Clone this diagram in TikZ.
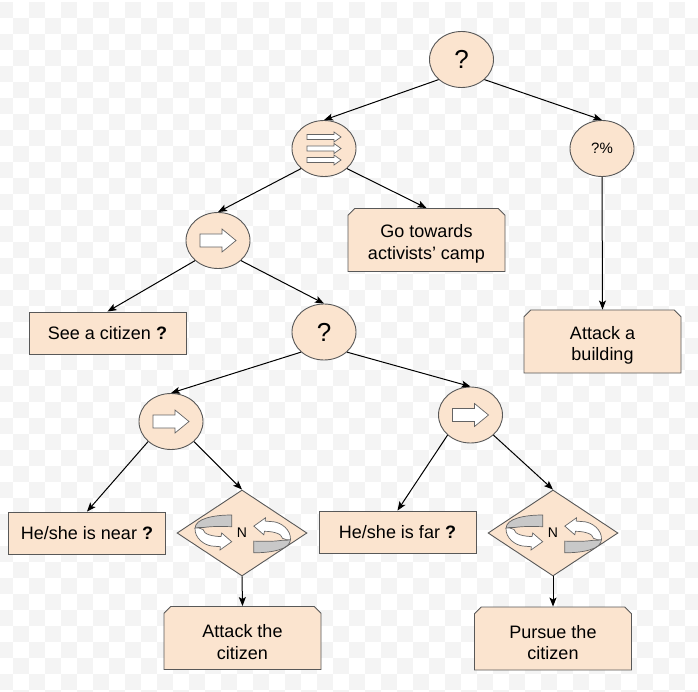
\documentclass[tikz,border=0pt]{standalone}
\usepackage{fontspec}
\setmainfont{Liberation Sans}
\usetikzlibrary{shapes.geometric,shapes.misc,arrows.meta,calc}
\definecolor{peach}{RGB}{251,228,207}
\definecolor{linegray}{RGB}{88,88,88}
\definecolor{icongray}{RGB}{100,100,100}
\definecolor{ringback}{RGB}{200,200,200}
\definecolor{checker}{RGB}{244,244,244}
\begin{document}
\begin{tikzpicture}[x=1pt,y=1pt]
  \tikzset{
    ctrl/.style={
      ellipse,
      draw=linegray,
      fill=peach,
      line width=0.9pt,
      minimum width=64pt,
      minimum height=56pt,
      inner sep=0pt
    },
    condbox/.style={
      rectangle,
      draw=linegray,
      fill=peach,
      line width=0.9pt,
      minimum width=157pt,
      minimum height=42pt,
      font=\fontsize{18}{21.6}\selectfont
    },
    actbox/.style={
      chamfered rectangle,
      chamfered rectangle corners={north west,north east},
      chamfered rectangle sep=6pt,
      draw=linegray,
      fill=peach,
      line width=0.9pt,
      minimum width=157pt,
      minimum height=63pt
    },
    acttext/.style={
      align=center,
      yshift=-4pt,
      font=\fontsize{18}{21.6}\selectfont
    },
    loopbox/.style={
      diamond,
      draw=linegray,
      fill=peach,
      line width=0.9pt,
      minimum width=130pt,
      minimum height=86pt,
      inner sep=0pt,
      font=\fontsize{14}{14}\selectfont
    },
    link/.style={
      draw=black,
      line width=1pt,
      -{Stealth[length=9pt,width=7pt,inset=2pt]}
    },
    seqarrow/.pic={
      \filldraw[fill=white, draw=icongray, line width=0.7pt]
        (-18,6.5) -- (4,6.5) -- (4,11.5) -- (18,0) -- (4,-11.5) -- (4,-6.5) -- (-18,-6.5) -- cycle;
    },
    triplearrow/.pic={
      \foreach \dy in {11.5,0,-11.5}
        \filldraw[fill=white, draw=icongray, line width=0.7pt]
          (-17,\dy+2.5) -- (10,\dy+2.5) -- (10,\dy+5) -- (17,\dy) -- (10,\dy-5) -- (10,\dy-2.5) -- (-17,\dy-2.5) -- cycle;
    },
    loopicon/.pic={
      % inner side of the ribbon
      \filldraw[fill=ringback, draw=icongray, line width=0.7pt]
        (18.2,17.5) .. controls (0,17.5) and (-18.5,14) .. (-18.5,4)
        .. controls (-16,5) and (-13,5.5) .. (-10,5)
        .. controls (0,6.5) and (10,6) .. (18.2,5.8) -- cycle;
      % outer side with the head
      \filldraw[fill=white, draw=icongray, line width=0.7pt]
        (-18.5,4.5) .. controls (-19,-6) and (-9,-12.5) .. (-2,-13.5)
        -- (6.8,-14.2) -- (6.5,-17.5) -- (18.2,-9.2) -- (8.2,-0.5) -- (7.5,-4)
        .. controls (0,-4) and (-10,-2) .. (-10.5,3)
        .. controls (-13,4.5) and (-16,4.8) .. cycle;
    }
  }

  \useasboundingbox (0,0) rectangle (698,-692);
  \fill[white] (0,0) rectangle (698,-692);
  \foreach \cx in {0,...,21}
    \foreach \cy in {0,...,21} {
      \fill[checker] (-3+32*\cx,-2-32*\cy) rectangle ++(16,-16);
      \fill[checker] (13+32*\cx,-18-32*\cy) rectangle ++(16,-16);
    }

  % control nodes
  \node[ctrl, font=\fontsize{26}{26}\selectfont] (root) at (461.5,-59.5) {?};
  \node[ctrl] (seqtop) at (324,-148.5) {};
  \node[ctrl, font=\fontsize{15}{15}\selectfont] (perc) at (602,-148.5) {?\%};
  \node[ctrl] (seqleft) at (218,-240.5) {};
  \node[ctrl, font=\fontsize{26}{26}\selectfont] (sel) at (324,-332) {?};
  \node[ctrl] (seqnear) at (171,-421.5) {};
  \node[ctrl] (seqfar) at (470.5,-415) {};

  % leaves
  \node[actbox, label={[acttext]center:{Go towards\\activists’ camp}}] (gotocamp) at (426.5,-240) {};
  \node[actbox, label={[acttext]center:{Attack a\\building}}] (building) at (602.5,-341.5) {};
  \node[condbox] (seecit) at (107.5,-333) {See a citizen \textbf{?}};
  \node[condbox] (near) at (87,-533) {He/she is near \textbf{?}};
  \node[condbox] (far) at (397.5,-532) {He/she is far \textbf{?}};
  \node[loopbox] (loopnear) at (242,-533) {N};
  \node[loopbox] (loopfar) at (553,-533) {N};
  \node[actbox, label={[acttext]center:{Attack the\\citizen}}] (attack) at (242.5,-638) {};
  \node[actbox, label={[acttext]center:{Pursue the\\citizen}}] (pursue) at (553,-638.5) {};

  % icons
  \pic at (seqtop) {triplearrow};
  \pic at (seqleft) {seqarrow};
  \pic at (seqnear) {seqarrow};
  \pic at (seqfar) {seqarrow};
  \pic at ($(loopnear)+(-28.5,0.5)$) {loopicon};
  \pic[rotate=180] at ($(loopnear)+(30,-2.3)$) {loopicon};
  \pic at ($(loopfar)+(-28.5,0.5)$) {loopicon};
  \pic[rotate=180] at ($(loopfar)+(30,-2.3)$) {loopicon};

  \draw[link] (root.south west) -- (seqtop.north);
  \draw[link] (root.south east) -- (perc.north);
  \draw[link] (seqtop.south west) -- (seqleft.north);
  \draw[link] (seqtop.south east) -- (gotocamp.north);
  \draw[link] (perc.south) -- (building.north);
  \draw[link] (seqleft.south west) -- (seecit.north);
  \draw[link] (seqleft.south east) -- (sel.north);
  \draw[link] (sel.south west) -- (seqnear.north);
  \draw[link] (sel.south east) -- (seqfar.north);
  \draw[link] (seqnear.south west) -- (near.north);
  \draw[link] (seqnear.south east) -- (loopnear.north);
  \draw[link] (seqfar.south west) -- (far.north);
  \draw[link] (seqfar.south east) -- (loopfar.north);
  \draw[link] (loopnear.south) -- (attack.north);
  \draw[link] (loopfar.south) -- (pursue.north);
\end{tikzpicture}
\end{document}
